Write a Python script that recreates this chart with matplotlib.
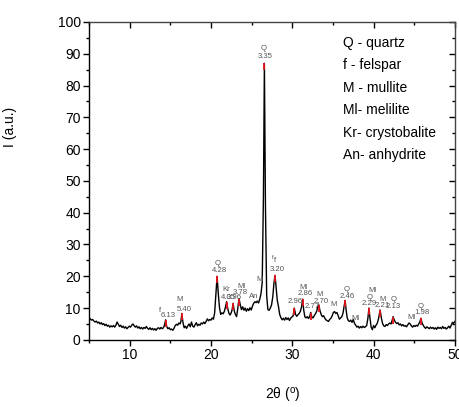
"""
XRD pattern of the ash sample with phase assignments (d-spacings in Angstrom).
"""

import numpy as np
import matplotlib
matplotlib.use("Agg")
import matplotlib.pyplot as plt
from matplotlib.lines import TICKDOWN, TICKLEFT

plt.rcParams["font.family"] = ["Liberation Sans", "DejaVu Sans"]
plt.rcParams["mathtext.fontset"] = "custom"
plt.rcParams["mathtext.rm"] = "Liberation Sans"

# --- pattern ---
two_theta = [
    5.0, 5.15, 5.3, 5.45, 5.6, 5.75, 5.9, 6.05, 6.2, 6.35, 6.5, 6.65, 6.8, 6.95,
    7.1, 7.25, 7.4, 7.55, 7.7, 7.85, 8.0, 8.15, 8.3, 8.45, 8.6, 8.75, 8.9, 9.05,
    9.2, 9.35, 9.5, 9.65, 9.8, 9.95, 10.1, 10.25, 10.4, 10.55, 10.7, 10.85, 11.0,
    11.15, 11.3, 11.45, 11.6, 11.75, 11.9, 12.05, 12.2, 12.35, 12.5, 12.65, 12.8,
    12.95, 13.1, 13.25, 13.4, 13.55, 13.7, 13.85, 14.0, 14.15, 14.3, 14.42, 14.55,
    14.7, 14.85, 15.0, 15.15, 15.3, 15.45, 15.6, 15.75, 15.9, 16.05, 16.2, 16.3,
    16.42, 16.55, 16.7, 16.85, 17.0, 17.15, 17.3, 17.45, 17.6, 17.75, 17.9, 18.05,
    18.2, 18.35, 18.5, 18.65, 18.8, 18.95, 19.1, 19.25, 19.4, 19.55, 19.7, 19.85,
    20.0, 20.15, 20.3, 20.45, 20.6, 20.75, 20.9, 21.05, 21.2, 21.35, 21.5, 21.65,
    21.8, 21.92, 22.05, 22.2, 22.35, 22.5, 22.6, 22.72, 22.85, 23.0, 23.15, 23.3,
    23.45, 23.6, 23.75, 23.9, 24.05, 24.2, 24.35, 24.5, 24.65, 24.8, 24.95, 25.1,
    25.25, 25.4, 25.55, 25.7, 25.85, 26.0, 26.15, 26.3, 26.45, 26.57, 26.7, 26.85,
    27.0, 27.15, 27.3, 27.45, 27.6, 27.75, 27.88, 28.0, 28.15, 28.3, 28.45, 28.6,
    28.75, 28.9, 29.05, 29.2, 29.35, 29.5, 29.65, 29.8, 29.95, 30.1, 30.25, 30.4,
    30.55, 30.7, 30.85, 31.0, 31.15, 31.28, 31.4, 31.55, 31.7, 31.85, 32.0, 32.15,
    32.27, 32.4, 32.55, 32.7, 32.85, 33.0, 33.15, 33.27, 33.4, 33.55, 33.7, 33.85,
    34.0, 34.15, 34.3, 34.45, 34.6, 34.75, 34.9, 35.05, 35.2, 35.35, 35.5, 35.65,
    35.8, 35.95, 36.1, 36.25, 36.37, 36.5, 36.62, 36.75, 36.9, 37.05, 37.2, 37.35,
    37.5, 37.65, 37.8, 37.95, 38.1, 38.25, 38.4, 38.55, 38.7, 38.85, 39.0, 39.15,
    39.3, 39.43, 39.55, 39.7, 39.85, 40.0, 40.15, 40.3, 40.45, 40.6, 40.8, 40.95,
    41.1, 41.25, 41.4, 41.55, 41.7, 41.85, 42.0, 42.15, 42.27, 42.4, 42.55, 42.7,
    42.85, 43.0, 43.15, 43.3, 43.45, 43.6, 43.75, 43.9, 44.05, 44.2, 44.35, 44.5,
    44.65, 44.8, 44.95, 45.1, 45.25, 45.4, 45.55, 45.7, 45.82, 45.95, 46.1, 46.25,
    46.4, 46.55, 46.7, 46.85, 47.0, 47.15, 47.3, 47.45, 47.6, 47.75, 47.9, 48.05,
    48.2, 48.35, 48.5, 48.65, 48.8, 48.95, 49.1, 49.25, 49.4, 49.55, 49.7, 49.85,
    50.0,
]
intensity = [
    7.0, 6.6, 6.2, 6.4, 5.9, 5.6, 5.9, 5.3, 5.6, 5.0, 5.4, 4.8, 5.1, 4.5,
    4.9, 4.3, 4.6, 4.0, 4.4, 4.1, 4.5, 4.0, 4.6, 5.6, 4.9, 4.2, 4.6, 3.9,
    4.3, 3.7, 4.1, 3.5, 3.9, 4.3, 4.0, 4.6, 5.0, 4.4, 4.0, 4.4, 3.7,
    4.1, 3.5, 3.9, 3.4, 3.9, 3.6, 4.2, 3.6, 3.3, 3.8, 3.2, 3.6,
    3.1, 3.5, 3.0, 3.6, 3.8, 3.4, 3.9, 3.5, 3.8, 4.8, 6.3, 4.2,
    3.5, 3.8, 3.2, 3.4, 3.0, 3.6, 4.5, 4.9, 4.6, 5.3, 5.0, 5.8,
    8.3, 5.5, 3.8, 4.3, 3.6, 4.4, 5.0, 4.1, 5.6, 4.3, 4.0, 4.8,
    5.4, 4.4, 4.9, 4.6, 5.3, 5.0, 5.6, 5.1, 5.8, 6.6, 6.0, 6.4,
    6.2, 6.9, 6.5, 8.5, 14.0, 20.0, 14.5, 10.0, 8.0, 8.5, 8.2, 9.0,
    10.5, 12.0, 10.0, 8.4, 7.8, 8.6, 9.5, 11.5, 9.2, 8.0, 7.3, 10.0,
    13.0, 11.0, 9.5, 10.4, 9.3, 10.0, 9.0, 9.8, 9.2, 10.1, 9.4, 10.6,
    11.5, 12.0, 11.7, 12.2, 11.6, 12.8, 14.5, 18.0, 45.0, 87.0, 42.0, 14.0,
    9.5, 9.3, 10.0, 11.0, 13.5, 18.0, 20.3, 17.0, 12.5, 10.5, 8.0, 7.0,
    6.3, 6.8, 6.2, 7.0, 6.4, 6.9, 6.1, 6.8, 7.2, 7.5, 10.0, 8.0,
    7.4, 7.9, 8.3, 9.0, 10.5, 12.8, 9.5, 7.2, 6.9, 7.3, 6.7, 7.4,
    8.6, 7.2, 6.9, 7.6, 8.2, 9.0, 10.5, 11.0, 9.2, 8.0, 7.3, 7.6,
    6.8, 6.3, 6.0, 5.8, 6.4, 6.8, 7.5, 8.6, 8.9, 8.3, 8.6, 7.5,
    6.5, 6.9, 7.3, 8.5, 10.5, 12.4, 9.5, 7.0, 6.0, 5.8, 6.2, 5.5,
    6.4, 5.2, 4.6, 4.0, 4.3, 3.7, 4.2, 3.8, 4.3, 3.9, 4.1, 4.5,
    6.8, 10.0, 7.0, 4.0, 3.2, 4.5, 3.8, 4.6, 5.2, 6.5, 9.4, 7.0,
    5.2, 4.4, 4.2, 4.8, 4.5, 5.0, 5.3, 5.0, 6.0, 7.3, 6.2, 5.5,
    5.1, 5.4, 4.7, 5.0, 4.4, 4.8, 4.3, 4.5, 4.1, 4.7, 5.3, 5.0,
    4.4, 4.0, 4.5, 4.2, 4.6, 4.3, 5.0, 5.7, 6.8, 5.4, 4.6, 4.0,
    3.6, 4.1, 3.8, 3.5, 4.0, 3.6, 3.9, 3.4, 3.8, 3.3, 4.0, 3.6,
    3.9, 3.5, 4.2, 3.6, 3.9, 3.4, 3.8, 4.3, 3.7, 4.6, 5.5, 5.2,
    5.8,
]

# peaks marked in red (2theta, top intensity)
peak_pos = [14.42, 16.42, 20.75, 21.92, 22.72, 23.45, 26.57, 27.88, 30.25,
            31.28, 32.27, 33.27, 36.5, 39.43, 40.8, 42.4, 45.82]
peak_top = [6.3, 8.3, 20.0, 12.0, 11.5, 13.0, 87.0, 20.3, 10.0,
            12.8, 8.6, 11.0, 12.4, 10.0, 9.4, 7.3, 6.8]

# small annotations: text and where it sits (data coords)
ann_text = ["f", "6.13", "M", "5.40", "Q", "4.28", "Kr", "4.05", "3.96",
            "Ml", "3.78", "An", "M", "Q", "3.35", "f", "f", "3.20",
            "2.96", "Ml", "2.86", "2.77", "M", "2.70", "M", "Q", "2.46",
            "Ml", "Ml", "Q", "2.29", "M", "2.21", "Q", "2.13", "Ml", "Q", "1.98"]
ann_x = [13.7, 14.75, 16.1, 16.7, 20.8, 21.1, 21.9, 22.15, 22.9,
         23.8, 23.65, 25.2, 26.0, 26.5, 26.6, 27.65, 27.9, 28.2,
         30.4, 31.4, 31.6, 32.5, 33.3, 33.5, 35.1, 36.65, 36.7,
         37.75, 39.8, 39.55, 39.5, 41.15, 41.1, 42.5, 42.4, 44.6, 45.75, 46.0]
ann_y = [9.1, 7.6, 12.6, 9.4, 24.1, 21.8, 15.7, 13.4, 13.4,
         16.8, 14.9, 13.6, 19.1, 91.7, 89.1, 25.9, 24.9, 22.2,
         12.0, 16.6, 14.7, 10.5, 14.4, 12.0, 11.2, 15.7, 13.6,
         6.8, 15.5, 13.4, 11.5, 12.8, 10.7, 12.6, 10.5, 7.1, 10.5, 8.6]

legend_lines = ["Q - quartz", "f - felspar", "M - mullite", "Ml- melilite",
                "Kr- crystobalite", "An- anhydrite"]


def main():
    fig = plt.figure(figsize=(4.59, 4.07), dpi=100)
    ax = fig.add_axes([0.194, 0.165, 0.797, 0.781])

    ax.plot(two_theta, intensity, color="black", lw=1.0)
    top = np.array(peak_top)
    ax.vlines(peak_pos, top - 2.2, top, color="#e8141e", lw=1.3, zorder=3)

    for t, x, y in zip(ann_text, ann_x, ann_y):
        fs = 4.6 if (t == "f" and x == 27.65) else 5.6
        ax.text(x, y, t, fontsize=fs, color="#555555", ha="center", va="center")

    for i, line in enumerate(legend_lines):
        ax.text(0.694, 0.934 - i * 0.0705, line, transform=ax.transAxes,
                fontsize=10, color="black", ha="left", va="center")

    ax.set_xlim(5, 50)
    ax.set_ylim(0, 100)
    ax.set_xticks([10, 20, 30, 40, 50])
    ax.set_xticks([5, 15, 25, 35, 45], minor=True)
    ax.set_yticks(np.arange(0, 101, 10))
    ax.set_yticks(np.arange(5, 100, 10), minor=True)

    ax.tick_params(axis="both", which="major", direction="out", length=4,
                   width=1, labelsize=10, pad=2)
    ax.tick_params(axis="both", which="minor", direction="out", length=2.5, width=1)
    ax.tick_params(top=True, right=True, which="both")
    # top / right ticks point inward
    for t in ax.xaxis.get_major_ticks() + ax.xaxis.get_minor_ticks():
        t.tick2line.set_marker(TICKDOWN)
    for t in ax.yaxis.get_major_ticks() + ax.yaxis.get_minor_ticks():
        t.tick2line.set_marker(TICKLEFT)

    for s in ax.spines.values():
        s.set_linewidth(1.0)
    ax.spines["top"].set_color("#444444")
    ax.spines["right"].set_color("#444444")

    ax.set_ylabel("I (a.u.)", fontsize=10)
    ax.yaxis.set_label_coords(-0.197, 0.67)
    ax.set_xlabel(r"2θ ($^{\rm o}$)", fontsize=10)
    ax.xaxis.set_label_coords(0.53, -0.145)

    fig.savefig("out.png", dpi=100)


if __name__ == "__main__":
    main()
